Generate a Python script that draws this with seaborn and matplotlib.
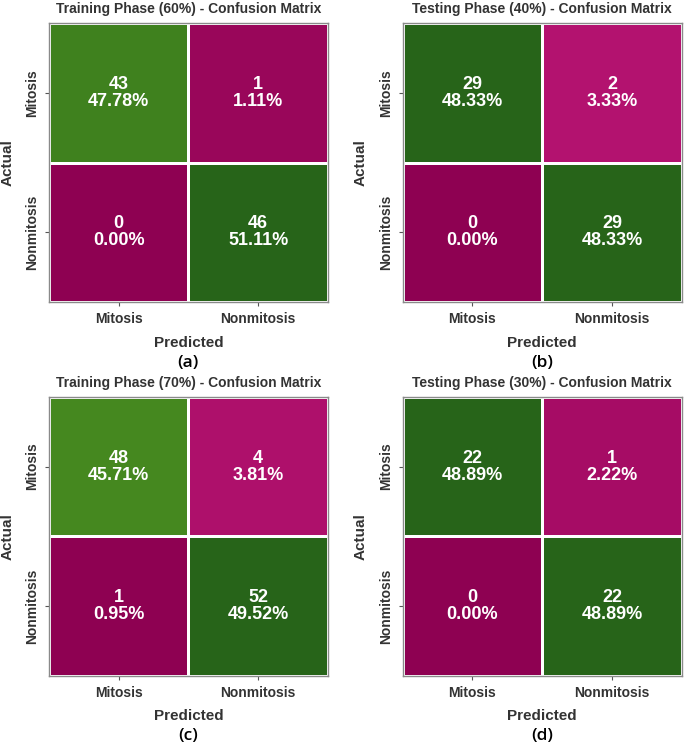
import matplotlib
matplotlib.use('Agg')
import numpy as np
import seaborn as sns
import matplotlib.pyplot as plt

class_names = ["Mitosis", "Nonmitosis"]

titles = ["Training Phase (60%) - Confusion Matrix",
          "Testing Phase (40%) - Confusion Matrix",
          "Training Phase (70%) - Confusion Matrix",
          "Testing Phase (30%) - Confusion Matrix"]
captions = ["(a)", "(b)", "(c)", "(d)"]

# rows = actual, cols = predicted
cm_train_60 = [[43, 1], [0, 46]]
cm_test_40 = [[29, 2], [0, 29]]
cm_train_70 = [[48, 4], [1, 52]]
cm_test_30 = [[22, 1], [0, 22]]
matrices = [cm_train_60, cm_test_40, cm_train_70, cm_test_30]

plt.rcParams['font.family'] = ['Liberation Sans', 'DejaVu Sans']
text_color = "#333333"

fig = plt.figure(figsize=(6.85, 7.46), dpi=100)

# axes boxes (left, bottom, width, height) in figure fractions
boxes = [(0.0715, 0.595, 0.407, 0.374),
         (0.588, 0.595, 0.407, 0.374),
         (0.0715, 0.094, 0.407, 0.374),
         (0.588, 0.094, 0.407, 0.374)]

for cm, title, cap, box in zip(matrices, titles, captions, boxes):
    cm = np.array(cm)
    total = cm.sum()
    labels = np.array([[f"{v}\n{v / total * 100:.2f}%" for v in row] for row in cm])
    ax = fig.add_axes(box)
    sns.heatmap(cm, annot=labels, fmt="", cmap="PiYG", cbar=False,
                linewidths=2, linecolor="white", square=False,
                xticklabels=class_names, yticklabels=class_names,
                annot_kws={"color": "white", "fontsize": 13, "fontweight": "bold",
                           "linespacing": 1.0},
                ax=ax)
    for sp in ax.spines.values():
        sp.set_visible(True)
        sp.set_color("#8a8a8a")
        sp.set_linewidth(1)
    ax.set_title(title, fontsize=10, fontweight="bold", color=text_color, pad=7)
    ax.set_xlabel("Predicted", fontsize=11, fontweight="bold", color=text_color, labelpad=7)
    ax.set_ylabel("Actual", fontsize=11, fontweight="bold", color=text_color, labelpad=8)
    ax.tick_params(axis="both", length=3, width=0.8, color="#555555", pad=4,
                   labelsize=10, labelcolor=text_color)
    plt.setp(ax.get_xticklabels(), fontweight="bold", rotation=0)
    plt.setp(ax.get_yticklabels(), fontweight="bold", rotation=90, va="center")
    ax.text(0.5, -0.217, cap, transform=ax.transAxes, ha="center", va="center",
            fontsize=12.5, color="black", family=["Open Sans", "DejaVu Sans"],
            fontweight="semibold")

fig.savefig("out.png", dpi=100)
